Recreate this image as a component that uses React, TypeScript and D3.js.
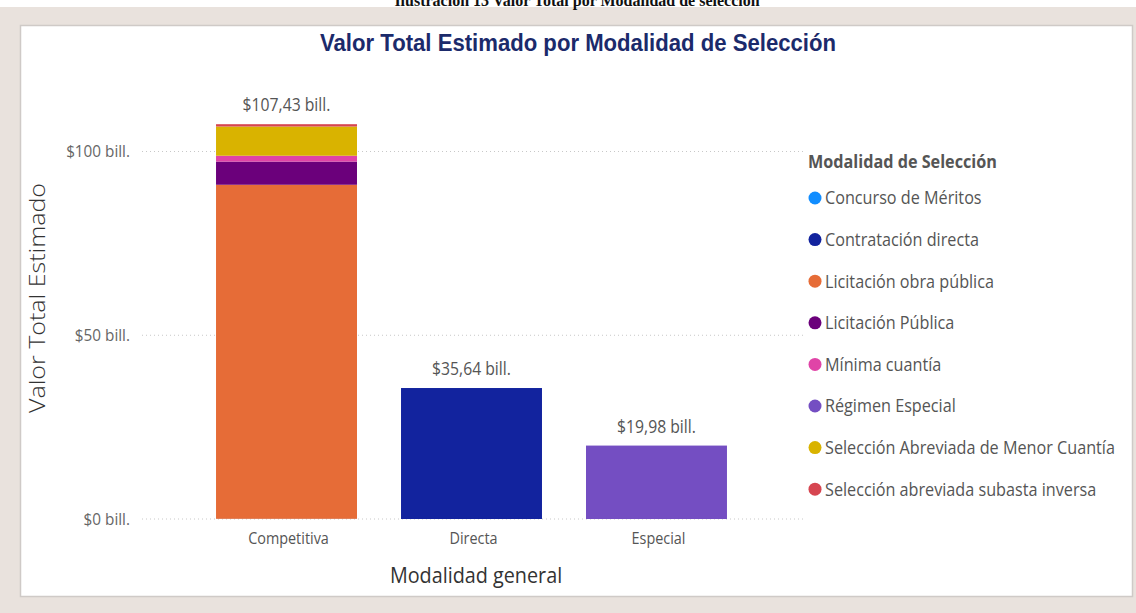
import React from "react";
import * as d3 from "d3";

const categories = ["Competitiva", "Directa", "Especial"];
const seriesNames = [
  "Concurso de Méritos",
  "Contratación directa",
  "Licitación obra pública",
  "Licitación Pública",
  "Mínima cuantía",
  "Régimen Especial",
  "Selección Abreviada de Menor Cuantía",
  "Selección abreviada subasta inversa",
];
const seriesColors = ["#118DFF", "#12239E", "#E66C37", "#6B007B", "#E044A7", "#744EC2", "#D9B300", "#D64550"];
// values in billions, aligned to categories
const concursoMeritos = [0.05, 0, 0];
const contratacionDirecta = [0, 35.64, 0];
const licitacionObraPublica = [90.9, 0, 0];
const licitacionPublica = [6.3, 0, 0];
const minimaCuantia = [1.6, 0, 0];
const regimenEspecial = [0, 0, 19.98];
const seleccionMenorCuantia = [7.95, 0, 0];
const subastaInversa = [0.63, 0, 0];
const seriesValues = [
  concursoMeritos,
  contratacionDirecta,
  licitacionObraPublica,
  licitacionPublica,
  minimaCuantia,
  regimenEspecial,
  seleccionMenorCuantia,
  subastaInversa,
];
const yTicks = [0, 50, 100];
const yTickLabels = ["$0 bill.", "$50 bill.", "$100 bill."];

const FONT = "'Open Sans', sans-serif";

export default function App() {
  const W = 1136;
  const H = 613;
  const x = d3.scaleBand<string>().domain(categories).range([172, 771]).padding(0.238);
  const y = d3.scaleLinear().domain([0, 100]).range([519, 151.5]);

  const rows = categories.map((c, ci) => {
    const r: any = { cat: c };
    seriesNames.forEach((s, si) => (r[s] = seriesValues[si][ci]));
    return r;
  });
  const stacked = d3.stack<any>().keys(seriesNames)(rows);
  const totals = categories.map((_, ci) => d3.sum(seriesValues, (s) => s[ci]));
  const loc = d3.formatLocale({ decimal: ",", thousands: ".", grouping: [3], currency: ["$", ""] });
  const fmt = loc.format(".2f");

  return (
    <svg width={W} height={H} style={{ position: "absolute", left: 0, top: 0 }}>
      <rect x={0} y={0} width={W} height={H} fill="#e9e2dd" />
      <rect x={0} y={0} width={W} height={7} fill="#ffffff" />
      <text
        x={577}
        y={6}
        textAnchor="middle"
        fontFamily="'Liberation Serif', serif"
        fontWeight="bold"
        fontSize={16}
        fill="#111"
      >
        Ilustración 13 Valor Total por Modalidad de selección
      </text>
      <rect x={20.5} y={25.5} width={1112} height={571} fill="#ffffff" stroke="#cfcac7" strokeWidth={1.5} />

      {/* title */}
      <text
        x={578}
        y={51}
        textAnchor="middle"
        fontFamily="'Liberation Sans', Arial, sans-serif"
        fontWeight="bold"
        fontSize={24}
        fill="#1b2a6b"
        textLength={516}
        lengthAdjust="spacingAndGlyphs"
      >
        Valor Total Estimado por Modalidad de Selección
      </text>

      {/* gridlines and y ticks */}
      {yTicks.map((t, i) => (
        <g key={t}>
          <line x1={142} x2={804} y1={y(t)} y2={y(t)} stroke="#c8c8c8" strokeWidth={1} strokeDasharray="1,3" />
          <text
            transform={`translate(130,${y(t)}) scale(0.9,1)`}
            dy="0.35em"
            textAnchor="end"
            fontFamily={FONT}
            fontSize={17}
            fill="#666"
          >
            {yTickLabels[i]}
          </text>
        </g>
      ))}

      {/* bars */}
      {stacked.map((layer, si) => (
        <g key={layer.key} fill={seriesColors[si]}>
          {layer.map((d, ci) => {
            const h = y(d[0]) - y(d[1]);
            if (h <= 0) return null;
            return (
              <rect key={ci} x={x(categories[ci])} y={y(d[1])} width={x.bandwidth()} height={h} />
            );
          })}
        </g>
      ))}

      {/* totals */}
      {categories.map((c, ci) => (
        <text
          key={c}
          transform={`translate(${(x(c) as number) + x.bandwidth() / 2},${y(totals[ci]) - 13}) scale(0.9,1)`}
          textAnchor="middle"
          fontFamily={FONT}
          fontSize={17.5}
          fill="#555"
        >
          {"$" + fmt(totals[ci]) + " bill."}
        </text>
      ))}

      {/* x tick labels */}
      {categories.map((c) => (
        <text
          key={c}
          transform={`translate(${(x(c) as number) + x.bandwidth() / 2 + 2},544) scale(0.9,1)`}
          textAnchor="middle"
          fontFamily={FONT}
          fontSize={16}
          fill="#555"
        >
          {c}
        </text>
      ))}

      {/* axis titles */}
      <text
        transform="translate(476,583) scale(0.9,1)"
        textAnchor="middle"
        fontFamily={FONT}
        fontSize={22}
        fill="#333"
      >
        Modalidad general
      </text>
      <text
        transform="translate(45,298) scale(0.85,1) rotate(-90)"
        textAnchor="middle"
        fontFamily={FONT}
        fontSize={25}
        fontWeight={300}
        fill="#333"
      >
        Valor Total Estimado
      </text>

      {/* legend */}
      <text
        transform="translate(808,168) scale(0.9,1)"
        fontFamily={FONT}
        fontWeight="bold"
        fontSize={18}
        fill="#555"
      >
        Modalidad de Selección
      </text>
      {seriesNames.map((s, i) => {
        const cy = 198 + i * 41.6;
        return (
          <g key={s}>
            <circle cx={815} cy={cy} r={6.5} fill={seriesColors[i]} />
            <text
              transform={`translate(825,${cy}) scale(0.9,1)`}
              dy="0.35em"
              fontFamily={FONT}
              fontSize={18}
              fill="#555"
            >
              {s}
            </text>
          </g>
        );
      })}
    </svg>
  );
}
